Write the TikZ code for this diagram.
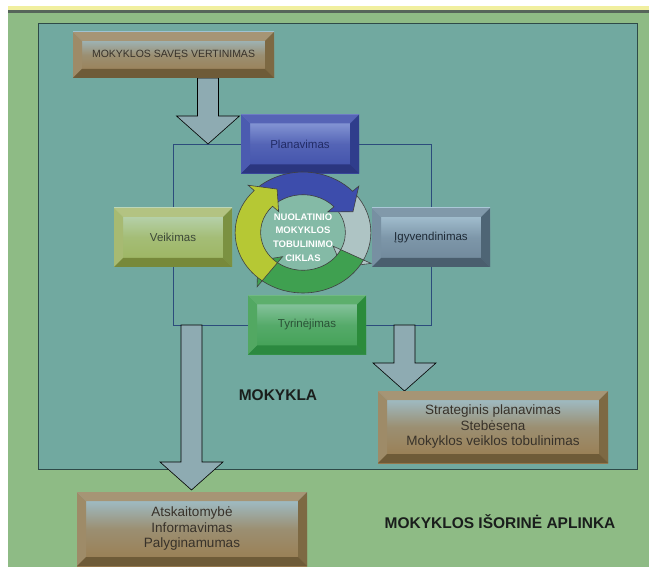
\documentclass[tikz,border=0pt]{standalone}
\usepackage{fontspec}
\setmainfont{Liberation Sans}
\usetikzlibrary{positioning,calc,backgrounds}

% page and areas
\definecolor{bandyellow}{HTML}{F1EF9F}
\definecolor{banddark}{HTML}{56655A}
\definecolor{outergreen}{HTML}{8EBB85}
\definecolor{schoolteal}{HTML}{71A9A0}
\definecolor{tealpen}{HTML}{2E4A48}
\definecolor{framepen}{HTML}{2C4C7C}
\definecolor{arrowfill}{HTML}{8EABB2}
\definecolor{titletext}{HTML}{1A1E1C}
% brown boxes
\definecolor{brtop}{HTML}{A69575}
\definecolor{brleft}{HTML}{9E8B68}
\definecolor{brright}{HTML}{7D6943}
\definecolor{brbot}{HTML}{6E5B38}
\definecolor{brhi}{HTML}{9FC8DC}
\definecolor{brface}{HTML}{9A7C4E}
\definecolor{brtext}{HTML}{38322A}
% blue box
\definecolor{bltop}{HTML}{5664B6}
\definecolor{blleft}{HTML}{4B5BB0}
\definecolor{blright}{HTML}{2F3D8C}
\definecolor{blbot}{HTML}{2B367F}
\definecolor{blhi}{HTML}{97A8E0}
\definecolor{blface}{HTML}{3E4EA8}
\definecolor{bltext}{HTML}{222C66}
% yellow-green box
\definecolor{yetop}{HTML}{B3C382}
\definecolor{yeleft}{HTML}{A7BA72}
\definecolor{yeright}{HTML}{7B9141}
\definecolor{yebot}{HTML}{77893B}
\definecolor{yehi}{HTML}{BCD8BE}
\definecolor{yeface}{HTML}{9CB45E}
\definecolor{yetext}{HTML}{3C4838}
% slate box
\definecolor{sltop}{HTML}{8199AA}
\definecolor{slleft}{HTML}{7790A2}
\definecolor{slright}{HTML}{4E6575}
\definecolor{slbot}{HTML}{4A5E6E}
\definecolor{slhi}{HTML}{AFCCDC}
\definecolor{slface}{HTML}{6D8598}
\definecolor{sltext}{HTML}{1E2A36}
% green box
\definecolor{grtop}{HTML}{5DAF6C}
\definecolor{grleft}{HTML}{52A862}
\definecolor{grright}{HTML}{2B8B3B}
\definecolor{grbot}{HTML}{2C8940}
\definecolor{grhi}{HTML}{98CCB0}
\definecolor{grface}{HTML}{3F9F52}
\definecolor{grtext}{HTML}{2A5236}
% cycle
\definecolor{cycdisc}{HTML}{84BAA6}
\definecolor{cycyellow}{HTML}{B6C834}
\definecolor{cycblue}{HTML}{3D4DAC}
\definecolor{cycgrey}{HTML}{AEC4C4}
\definecolor{cycgreen}{HTML}{3FA050}

\newcommand{\bw}{9pt}
\newcommand{\ro}{64}
\newcommand{\ri}{40}
\newcommand{\rmid}{52}
\newcommand{\hd}{8}
% clockwise arc arrow: from angle, to angle, colour
\newcommand{\cycarrow}[3]{%
  \filldraw[cycpen, fill=#3] (#1:\ro) arc[start angle=#1, end angle=#2, radius=\ro]
    -- ({#2}:{\ro+\hd}) -- ({#2-18}:\rmid) -- ({#2}:{\ri-\hd}) -- (#2:\ri)
    arc[start angle=#2, end angle=#1, radius=\ri] -- cycle;}

\begin{document}
\begin{tikzpicture}[x=1pt,y=-1pt,
    bevelbox/.style={inner sep=0pt, align=center, text=#1text,
      top color=#1hi, bottom color=#1face, middle color=#1face!75!#1hi,
      path picture={
        \fill[#1top] (path picture bounding box.north west) -- (path picture bounding box.north east)
          -- ([shift={(-\bw,-\bw)}]path picture bounding box.north east)
          -- ([shift={(\bw,-\bw)}]path picture bounding box.north west) -- cycle;
        \fill[#1left] (path picture bounding box.north west) -- ([shift={(\bw,-\bw)}]path picture bounding box.north west)
          -- ([shift={(\bw,\bw)}]path picture bounding box.south west)
          -- (path picture bounding box.south west) -- cycle;
        \fill[#1right] (path picture bounding box.north east) -- (path picture bounding box.south east)
          -- ([shift={(-\bw,\bw)}]path picture bounding box.south east)
          -- ([shift={(-\bw,-\bw)}]path picture bounding box.north east) -- cycle;
        \fill[#1bot] (path picture bounding box.south west) -- (path picture bounding box.south east)
          -- ([shift={(-\bw,\bw)}]path picture bounding box.south east)
          -- ([shift={(\bw,\bw)}]path picture bounding box.south west) -- cycle;
      }},
    stepnode/.style={bevelbox=#1, minimum width=118pt, minimum height=59pt,
      font=\fontsize{11.5}{13}\selectfont},
    outnode/.style={bevelbox=br, minimum width=230pt, minimum height=72pt,
      font=\fontsize{13.5}{15.5}\selectfont},
    bigarrow/.style={draw=black, line width=0.6pt, fill=arrowfill,
      to path={let \p1=(\tikztostart), \p2=(\tikztotarget) in
        (\x1-10.5pt,\y1) -- (\x1-10.5pt,\y2+28pt) -- (\x1-31.5pt,\y2+28pt) -- (\x1,\y2)
        -- (\x1+31.5pt,\y2+28pt) -- (\x1+10.5pt,\y2+28pt) -- (\x1+10.5pt,\y1) -- cycle}},
    frameline/.style={draw=framepen, line width=0.8pt},
    cycpen/.style={draw=black!75, line width=0.6pt},
    cyctext/.style={align=center, text=white, font=\fontsize{9.5}{13.7}\selectfont\bfseries},
    areatitle/.style={text=titletext, font=\fontsize{15.5}{18}\selectfont\bfseries}]
    \useasboundingbox (0,0) rectangle (649,567);

    %Nodes
    \node[bevelbox=br, minimum width=201pt, minimum height=46pt,
      font=\fontsize{10.5}{12}\selectfont] (selfeval) at (173.5,55) {MOKYKLOS SAVĘS VERTINIMAS};
    \node[stepnode=bl] (plan) at (300,144) {Planavimas};
    \node[stepnode=ye] (veik) at (173,237.5) {Veikimas};
    \node[stepnode=sl] (igyv) at (431,237.5) {Įgyvendinimas};
    \node[stepnode=gr] (tyr) at (307,325) {Tyrinėjimas};
    \node[outnode] (strat) at (493,427) {Strateginis planavimas\\Stebėsena\\Mokyklos veiklos tobulinimas};
    \node[outnode, minimum height=74pt] (atsk) at (192,529) {Atskaitomybė\\Informavimas\\Palyginamumas};
    \node[areatitle] (school) at (278,395) {MOKYKLA};
    \node[areatitle] (outside) at (500,522) {MOKYKLOS IŠORINĖ APLINKA};

    % cycle
    \coordinate (cyc) at (303,232.5);
    \begin{scope}[shift={(cyc)}, xscale=1.06, yscale=-0.945]
      \fill[cycdisc] (0,0) circle[radius=\ri];
      \cycarrow{43}{-27}{cycgrey}
      \cycarrow{-27}{-127}{cycgreen}
      \cycarrow{136}{43}{cycblue}
      \cycarrow{233}{136}{cycyellow}
    \end{scope}
    \node[cyctext] (cycname) at (303,237.5) {NUOLATINIO\\MOKYKLOS\\TOBULINIMO\\CIKLAS};

    %Lines
    \begin{scope}[on background layer]
      \fill[white] (0,0) rectangle (649,567);
      \fill[bandyellow] (8,6) rectangle (649,10);
      \fill[banddark] (8,10) rectangle (649,13);
      \fill[outergreen] (8,13) rectangle (649,567);
      \filldraw[fill=schoolteal, draw=tealpen, line width=0.6pt] (38,23) rectangle (637,469);
      \draw[frameline] (veik.center |- plan.center) rectangle (igyv.center |- tyr.center);
      \coordinate (tipA) at (208,144);
      \coordinate (tipB) at (191.5,490);
      \coordinate (tipC) at (404.5,391);
      \draw[bigarrow] (selfeval.south -| tipA) to (tipA);
      \draw[bigarrow] (tyr.center -| tipB) to (tipB);
      \draw[bigarrow] (tyr.center -| tipC) to (tipC);
    \end{scope}
\end{tikzpicture}
\end{document}
